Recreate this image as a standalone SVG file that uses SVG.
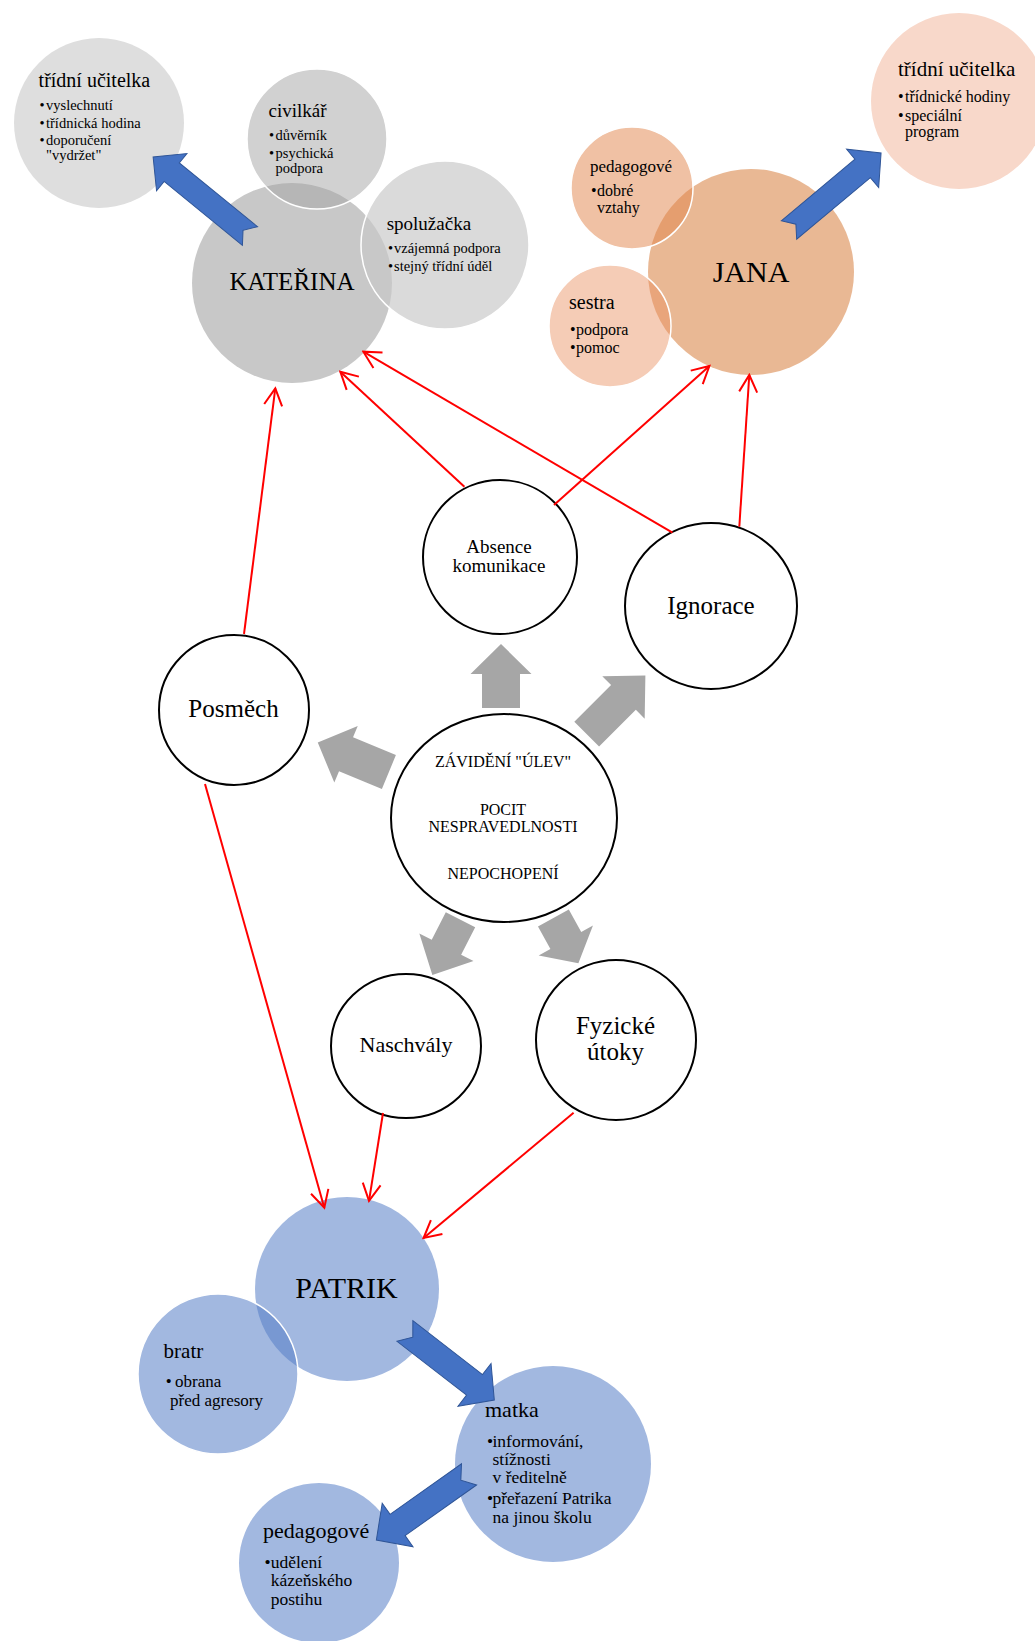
<svg xmlns="http://www.w3.org/2000/svg" width="1035" height="1641" viewBox="0 0 1035 1641">
<defs>
<style>
.t{font-family:"Liberation Serif","Times New Roman",serif;fill:#000}
.m{text-anchor:middle}
.red{stroke:#ff0000;stroke-width:2;fill:none;marker-end:url(#ah)}
.blue{fill:#4472c4;stroke:#2f5597;stroke-width:1}
.grey{fill:#a6a6a6}
.node{fill:#fff;stroke:#000;stroke-width:2}
.sat{stroke:#fff;stroke-width:1.5}
.k{font-size:14.5px}
</style>
<marker id="ah" markerUnits="userSpaceOnUse" markerWidth="24" markerHeight="24" viewBox="-22 -12 24 24" refX="0" refY="0" orient="auto">
<path d="M-17,-9 L0,0 L-17,9" fill="none" stroke="#ff0000" stroke-width="2"/>
</marker>
</defs>
<rect width="1035" height="1641" fill="#fff"/>

<!-- KATERINA cluster -->
<g id="ucitelka-k">
<circle cx="99" cy="123" r="85" fill="#dedede"/>
<text class="t" x="38.6" y="87" font-size="20">třídní učitelka</text>
<text class="t k" x="39.6" y="110">•</text><text class="t k" x="46" y="110">vyslechnutí</text>
<text class="t k" x="39.6" y="128">•</text><text class="t k" x="46" y="128">třídnická hodina</text>
<text class="t k" x="39.6" y="145">•</text><text class="t k" x="46" y="145">doporučení</text>
<text class="t k" x="46" y="160">"vydržet"</text>
</g>
<g id="katerina">
<circle cx="292" cy="283" r="100" fill="#c8c8c8"/>
<text class="t m" x="292" y="290" font-size="25">KATEŘINA</text>
</g>
<g id="civilkar">
<circle class="sat" cx="317" cy="139" r="70" fill="rgba(163,163,163,0.5)"/>
<text class="t" x="268.6" y="117" font-size="19">civilkář</text>
<text class="t k" x="269" y="140">•</text><text class="t k" x="275.5" y="140">důvěrník</text>
<text class="t k" x="269" y="158">•</text><text class="t k" x="275.5" y="158">psychická</text>
<text class="t k" x="275.5" y="173">podpora</text>
</g>
<g id="spoluzacka">
<circle class="sat" cx="445" cy="245" r="84" fill="rgba(200,200,200,0.67)"/>
<text class="t" x="386.7" y="230" font-size="19">spolužačka</text>
<text class="t k" x="388" y="253">•</text><text class="t k" x="394" y="253">vzájemná podpora</text>
<text class="t k" x="388" y="271">•</text><text class="t k" x="394" y="271">stejný třídní úděl</text>
</g>

<!-- JANA cluster -->
<g id="ucitelka-j">
<circle cx="959" cy="101" r="88" fill="#f8d8ca"/>
<text class="t" x="898" y="76" font-size="21">třídní učitelka</text>
<text class="t" x="898" y="102" font-size="16">•</text><text class="t" x="905" y="102" font-size="16">třídnické hodiny</text>
<text class="t" x="898" y="121" font-size="16">•</text><text class="t" x="905" y="121" font-size="16">speciální</text>
<text class="t" x="905" y="137" font-size="16">program</text>
</g>
<g id="jana">
<circle cx="751" cy="272" r="103" fill="#e9b894"/>
<text class="t m" x="751" y="282" font-size="30">JANA</text>
</g>
<g id="pedagogove-j">
<circle class="sat" cx="632" cy="188" r="61" fill="rgba(225,131,74,0.5)"/>
<text class="t" x="590" y="172" font-size="17">pedagogové</text>
<text class="t" x="591" y="196" font-size="16">•</text><text class="t" x="597" y="196" font-size="16">dobré</text>
<text class="t" x="597" y="213" font-size="16">vztahy</text>
</g>
<g id="sestra">
<circle class="sat" cx="610" cy="326" r="61" fill="rgba(233,142,93,0.45)"/>
<text class="t" x="569" y="309" font-size="20">sestra</text>
<text class="t" x="570" y="335" font-size="16">•</text><text class="t" x="576" y="335" font-size="16">podpora</text>
<text class="t" x="570" y="353" font-size="16">•</text><text class="t" x="576" y="353" font-size="16">pomoc</text>
</g>

<!-- grey block arrows from the centre -->
<g id="grey-arrows">
<path class="grey" transform="translate(501,708) rotate(-90)" d="M0,-19 L34,-19 L34,-30.5 L64,0 L34,30.5 L34,19 L0,19 Z"/>
<path class="grey" transform="translate(586.7,734.2) rotate(-45)" d="M0,-17.5 L52,-17.5 L52,-30 L83,0 L52,30 L52,17.5 L0,17.5 Z"/>
<path class="grey" transform="translate(388.9,772) rotate(202.5)" d="M0,-18.3 L46.4,-18.3 L46.4,-30.6 L77,0 L46.4,30.6 L46.4,18.3 L0,18.3 Z"/>
<path class="grey" transform="translate(460.5,919.7) rotate(117)" d="M0,-16.5 L31,-16.5 L31,-30.4 L62,0 L31,30.4 L31,16.5 L0,16.5 Z"/>
<path class="grey" transform="translate(553.4,918) rotate(61.1)" d="M0,-17.6 L25.7,-17.6 L25.7,-31 L51.7,0 L25.7,31 L25.7,17.6 L0,17.6 Z"/>
</g>

<!-- white nodes -->
<g id="centrum">
<ellipse class="node" cx="504" cy="818" rx="113" ry="104"/>
<text class="t m" x="503" y="767" font-size="16">ZÁVIDĚNÍ "ÚLEV"</text>
<text class="t m" x="503" y="815" font-size="16">POCIT</text>
<text class="t m" x="503" y="832" font-size="16">NESPRAVEDLNOSTI</text>
<text class="t m" x="503" y="879" font-size="16">NEPOCHOPENÍ</text>
</g>
<g id="absence">
<circle class="node" cx="500" cy="557" r="77"/>
<text class="t m" x="499" y="553" font-size="19">Absence</text>
<text class="t m" x="499" y="572" font-size="19">komunikace</text>
</g>
<g id="ignorace">
<ellipse class="node" cx="711" cy="606" rx="86" ry="83"/>
<text class="t m" x="711" y="614" font-size="25">Ignorace</text>
</g>
<g id="posmech">
<circle class="node" cx="234" cy="710" r="75"/>
<text class="t m" x="233.5" y="717" font-size="25">Posměch</text>
</g>
<g id="naschvaly">
<ellipse class="node" cx="406" cy="1046" rx="75" ry="72"/>
<text class="t m" x="406" y="1052" font-size="22">Naschvály</text>
</g>
<g id="fyzicke">
<circle class="node" cx="616" cy="1040" r="80"/>
<text class="t m" x="615.5" y="1034" font-size="25">Fyzické</text>
<text class="t m" x="615.5" y="1060" font-size="25">útoky</text>
</g>

<!-- PATRIK cluster -->
<g id="patrik">
<circle cx="347" cy="1289" r="92" fill="#a2b8e0"/>
<text class="t m" x="346.5" y="1298" font-size="30">PATRIK</text>
</g>
<g id="bratr">
<circle class="sat" cx="218" cy="1374" r="80" fill="rgba(86,126,199,0.55)"/>
<text class="t" x="163.6" y="1358" font-size="21">bratr</text>
<text class="t" x="165.7" y="1387" font-size="17">•</text><text class="t" x="175" y="1387" font-size="17">obrana</text>
<text class="t" x="170" y="1406" font-size="17">před agresory</text>
</g>
<g id="matka">
<circle cx="553" cy="1464" r="98" fill="#a2b8e0"/>
<text class="t" x="485" y="1417" font-size="22">matka</text>
<text class="t" x="487" y="1447" font-size="17.5">•</text><text class="t" x="492.5" y="1447" font-size="17.5">informování,</text>
<text class="t" x="492.5" y="1465" font-size="17.5">stížnosti</text>
<text class="t" x="492.5" y="1483" font-size="17.5">v ředitelně</text>
<text class="t" x="487" y="1504" font-size="17.5">•</text><text class="t" x="492.5" y="1504" font-size="17.5">přeřazení Patrika</text>
<text class="t" x="492.5" y="1523" font-size="17.5">na jinou školu</text>
</g>
<g id="pedagogove-p">
<circle cx="319" cy="1563" r="80" fill="#a2b8e0"/>
<text class="t" x="263" y="1538" font-size="22">pedagogové</text>
<text class="t" x="264.6" y="1568" font-size="17.5">•</text><text class="t" x="270.7" y="1568" font-size="17.5">udělení</text>
<text class="t" x="270.7" y="1586" font-size="17.5">kázeňského</text>
<text class="t" x="270.7" y="1604.5" font-size="17.5">postihu</text>
</g>

<!-- connectors -->
<g id="connectors">
<path class="blue" transform="translate(250,236) rotate(-140.8)" d="M0,-12 L101,-12 L101,-24 L125,0 L101,24 L101,12 L0,12 L9,0 Z"/>
<path class="blue" transform="translate(789,230) rotate(-39.9)" d="M0,-12 L96,-12 L96,-25 L120,0 L96,25 L96,12 L0,12 L9,0 Z"/>
<path class="blue" transform="translate(404.9,1331) rotate(37.7)" d="M0,-13 L88,-13 L88,-27 L113,0 L88,27 L88,13 L0,13 L10,0 Z"/>
<path class="blue" transform="translate(469,1474.4) rotate(144.7)" d="M0,-13 L87.5,-13 L87.5,-26.6 L113.5,0 L87.5,26.6 L87.5,13 L0,13 L10,0 Z"/>
<line class="red" x1="244" y1="634" x2="275.3" y2="388.3"/>
<line class="red" x1="464.4" y1="486.7" x2="340.3" y2="371.7"/>
<line class="red" x1="672.5" y1="532.7" x2="363.3" y2="351.7"/>
<line class="red" x1="554" y1="505" x2="709.4" y2="366"/>
<line class="red" x1="739.3" y1="526.7" x2="749.3" y2="375"/>
<line class="red" x1="205" y1="784" x2="324.3" y2="1207.7"/>
<line class="red" x1="383" y1="1113" x2="369" y2="1200.8"/>
<line class="red" x1="573.6" y1="1112.7" x2="423.6" y2="1238"/>
</g>
</svg>
